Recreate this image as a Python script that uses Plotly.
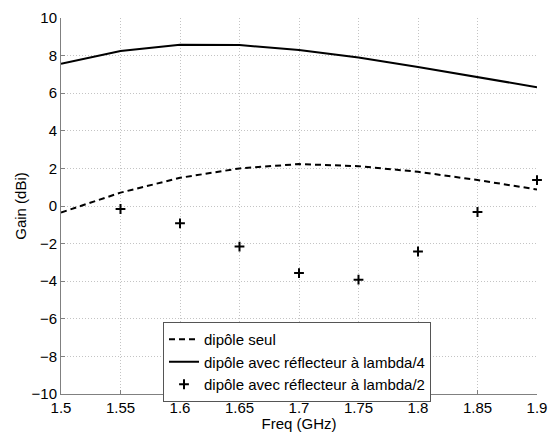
import plotly.graph_objects as go

freq = [1.5, 1.55, 1.6, 1.65, 1.7, 1.75, 1.8, 1.85, 1.9]
gain_seul = [-0.35, 0.71, 1.5, 2.0, 2.23, 2.12, 1.82, 1.38, 0.88]
gain_l4 = [7.57, 8.25, 8.58, 8.56, 8.3, 7.9, 7.39, 6.86, 6.32]
freq_l2 = [1.55, 1.6, 1.65, 1.7, 1.75, 1.8, 1.85, 1.9]
gain_l2 = [-0.16, -0.92, -2.16, -3.57, -3.92, -2.42, -0.32, 1.38]

names = ["dipôle seul", "dipôle avec réflecteur à lambda/4", "dipôle avec réflecteur à lambda/2"]
xticks = [1.5, 1.55, 1.6, 1.65, 1.7, 1.75, 1.8, 1.85, 1.9]
xticklabels = ["1.5", "1.55", "1.6", "1.65", "1.7", "1.75", "1.8", "1.85", "1.9"]
yticks = list(range(-10, 11, 2))

fig = go.Figure()
fig.add_trace(go.Scatter(x=freq, y=gain_seul, mode="lines", name=names[0],
                         line=dict(color="black", width=2, dash="6px,4px")))
fig.add_trace(go.Scatter(x=freq, y=gain_l4, mode="lines", name=names[1],
                         line=dict(color="black", width=2)))
fig.add_trace(go.Scatter(x=freq_l2, y=gain_l2, mode="markers", name=names[2],
                         cliponaxis=False,
                         marker=dict(symbol="cross-thin", size=7, color="black",
                                     line=dict(color="black", width=2))))

font = dict(family="Liberation Sans, Arial, sans-serif", size=15, color="black")
L, R, T, B = 61, 12, 18, 38
W, H = 549, 432
pw, ph = W - L - R, H - T - B
fig.update_layout(
    width=W, height=H, autosize=False,
    margin=dict(l=L, r=R, t=T, b=B, autoexpand=False),
    paper_bgcolor="white", plot_bgcolor="white",
    font=font,
    showlegend=True,
    legend=dict(x=(163 - L) / pw, y=(H - B - 322) / ph, xanchor="left", yanchor="top",
                bgcolor="white", bordercolor="#555555", borderwidth=1,
                itemwidth=30, font=dict(size=15), tracegroupgap=0),
    xaxis=dict(range=[1.5, 1.9], tickvals=xticks, ticktext=xticklabels,
               automargin=False,
               showgrid=True, gridcolor="#c4c4c4", griddash="1px,2px", gridwidth=1,
               showline=True, linecolor="#808080", linewidth=1,
               ticks="inside", ticklen=4, tickcolor="#808080",
               zeroline=False,
               title=dict(text="Freq (GHz)", standoff=0, font=dict(size=15))),
    yaxis=dict(range=[-10, 10], tickvals=yticks,
               automargin=False,
               showgrid=True, gridcolor="#c4c4c4", griddash="1px,2px", gridwidth=1,
               showline=True, linecolor="#808080", linewidth=1,
               ticks="inside", ticklen=4, tickcolor="#808080",
               zeroline=False,
               title=dict(text="Gain (dBi)", standoff=1, font=dict(size=15))),
)

fig.write_html("out.html",
               config={"displayModeBar": False},
               post_script="document.body.style.margin='0';document.body.style.overflow='hidden';")
